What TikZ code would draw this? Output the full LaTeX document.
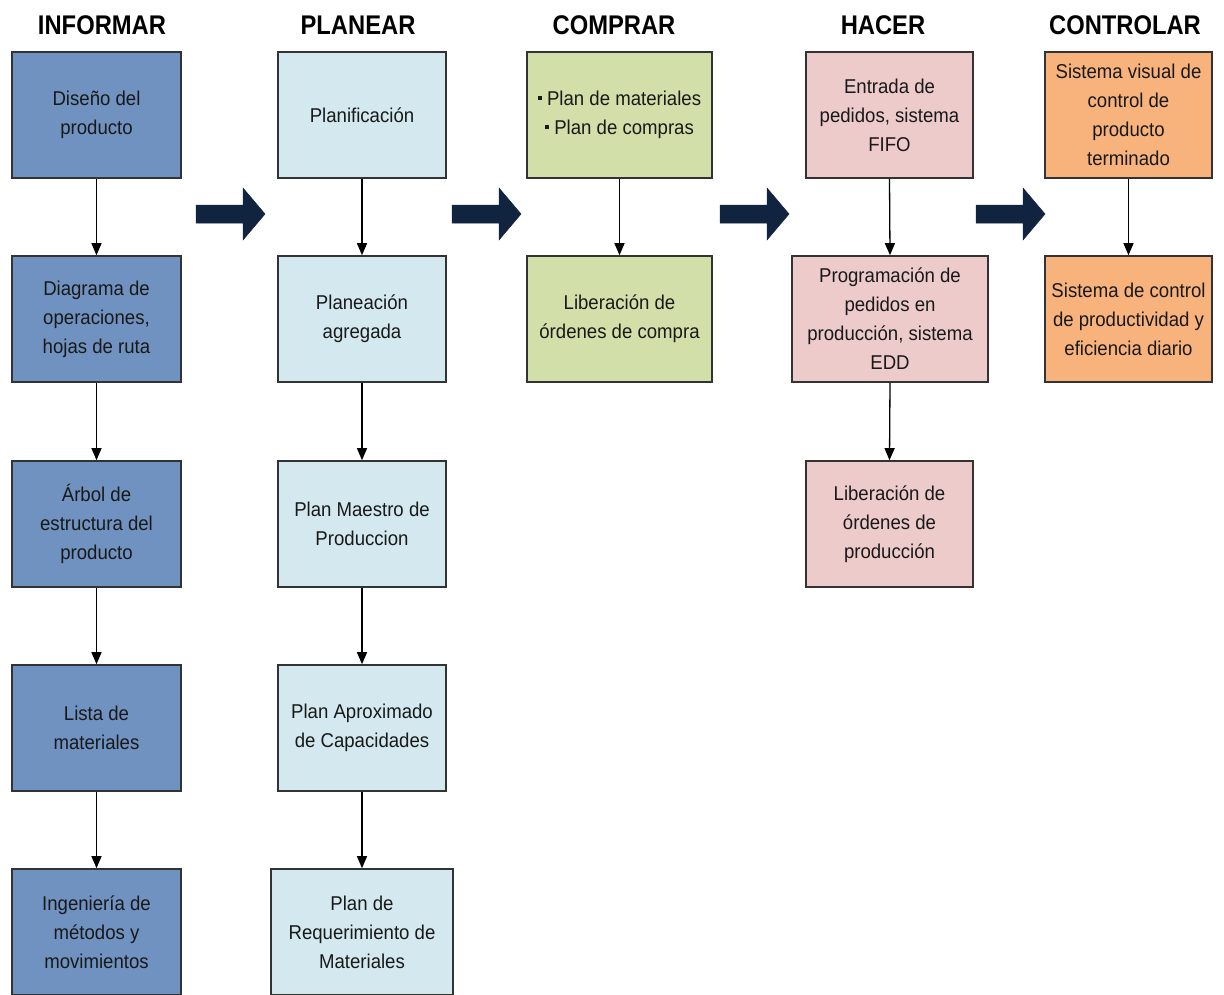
\documentclass[tikz,border=0pt]{standalone}
\usepackage{fontspec}
\setmainfont{Liberation Sans}[FakeStretch=0.93]
\newfontfamily\titlefont{Liberation Sans}[FakeStretch=0.88]
\usetikzlibrary{arrows.meta,shadows}
\definecolor{cinf}{HTML}{7092C0}
\definecolor{cpla}{HTML}{D3E9EF}
\definecolor{ccom}{HTML}{D3DFA9}
\definecolor{chac}{HTML}{EDCBCB}
\definecolor{ccon}{HTML}{F8B37D}
\definecolor{cedge}{HTML}{333333}
\definecolor{cnavy}{HTML}{10243F}
\newcommand{\sqb}{\raisebox{0.28em}{\rule{4pt}{4pt}}\ }
\tikzset{
  box/.style={draw=cedge, line width=1.6pt, rectangle, inner sep=0pt,
    minimum height=126pt, align=center, text=black!90,
    font=\fontsize{20}{29}\selectfont,
    drop shadow={opacity=0.35, shadow xshift=1.2pt, shadow yshift=-1.2pt}},
  ttl/.style={font=\titlefont\bfseries\fontsize{27}{30}\selectfont},
  conn/.style={-{Triangle[length=12pt,width=10pt]}, line width=1.3pt, black},
  bigarrow/.style={fill=cnavy, draw=cnavy, line width=0.5pt}
}
\begin{document}
\begin{tikzpicture}[x=1pt,y=-1pt]
\useasboundingbox (0,0) rectangle (1224,994);
% titles
\node[ttl] (t1) at (102,25) {INFORMAR};
\node[ttl] (t2) at (358,25) {PLANEAR};
\node[ttl] (t3) at (614,25) {COMPRAR};
\node[ttl] (t4) at (883,25) {HACER};
\node[ttl] (t5) at (1125,25) {CONTROLAR};
% INFORMAR
\node[box, fill=cinf, minimum width=169pt] (i1) at (96.5,115) {Diseño del\\producto};
\node[box, fill=cinf, minimum width=169pt] (i2) at (96.5,319) {Diagrama de\\operaciones,\\hojas de ruta};
\node[box, fill=cinf, minimum width=169pt] (i3) at (96.5,524) {Árbol de\\estructura del\\producto};
\node[box, fill=cinf, minimum width=169pt] (i4) at (96.5,728) {Lista de\\materiales};
\node[box, fill=cinf, minimum width=169pt] (i5) at (96.5,932) {Ingeniería de\\métodos y\\movimientos};
% PLANEAR
\node[box, fill=cpla, minimum width=168pt] (p1) at (362,115) {Planificación};
\node[box, fill=cpla, minimum width=168pt] (p2) at (362,319) {Planeación\\agregada};
\node[box, fill=cpla, minimum width=168pt] (p3) at (362,524) {Plan Maestro de\\Produccion};
\node[box, fill=cpla, minimum width=168pt] (p4) at (362,728) {Plan Aproximado\\de Capacidades};
\node[box, fill=cpla, minimum width=182pt] (p5) at (362,932) {Plan de\\Requerimiento de\\Materiales};
% COMPRAR
\node[box, fill=ccom, minimum width=185pt] (c1) at (619.5,115) {\sqb Plan de materiales\\\sqb Plan de compras};
\node[box, fill=ccom, minimum width=185pt] (c2) at (619.5,319) {Liberación de\\órdenes de compra};
% HACER
\node[box, fill=chac, minimum width=167pt] (h1) at (889.5,115) {Entrada de\\pedidos, sistema\\FIFO};
\node[box, fill=chac, minimum width=196pt] (h2) at (890,319) {Programación de\\pedidos en\\producción, sistema\\EDD};
\node[box, fill=chac, minimum width=167pt] (h3) at (889.5,524) {Liberación de\\órdenes de\\producción};
% CONTROLAR
\node[box, fill=ccon, minimum width=167pt] (k1) at (1128.5,115) {Sistema visual de\\control de\\producto\\terminado};
\node[box, fill=ccon, minimum width=167pt] (k2) at (1128.5,319) {Sistema de control\\de productividad y\\eficiencia diario};
% connectors
\foreach \a/\b in {i1/i2,i2/i3,i3/i4,i4/i5,p1/p2,p2/p3,p3/p4,p4/p5,c1/c2,h1/h2,h2/h3,k1/k2}
  \draw[conn] (\a.south) -- (\b.north);
% big arrows
\foreach \dx in {0,256,524,780}
  \filldraw[bigarrow, shift={(\dx,0)}] (196,205) -- (243,205) -- (243,188) -- (265,214) -- (243,240) -- (243,223) -- (196,223) -- cycle;
\end{tikzpicture}
\end{document}
